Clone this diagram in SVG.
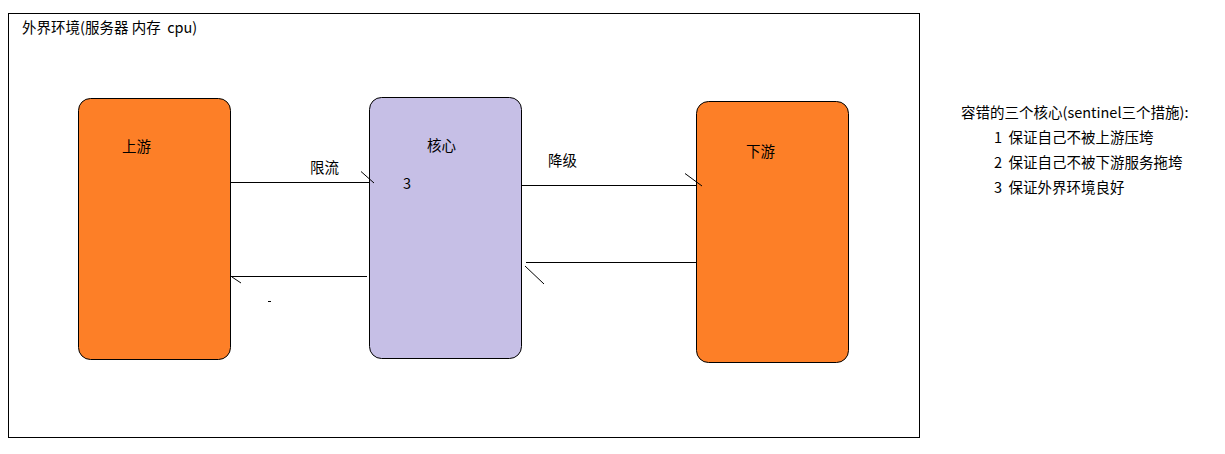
<svg xmlns="http://www.w3.org/2000/svg" width="1225" height="454" viewBox="0 0 1225 454">
<style>
text{font-family:"Noto Sans CJK SC","Noto Sans",sans-serif;font-size:14.5px;fill:#000;white-space:pre;}
.orange{fill:#fd7f27;stroke:#000;stroke-width:1;}
.purple{fill:#c6bfe6;stroke:#000;stroke-width:1;}
.ln{stroke:#000;stroke-width:1;fill:none;}
</style>
<rect x="0" y="0" width="1225" height="454" fill="#fff"/>
<g id="env">
<rect x="8.5" y="13.5" width="911" height="424" fill="none" stroke="#000"/>
<text x="22" y="33" xml:space="preserve">外界环境(服务器 内存  cpu)</text>
</g>
<g id="upstream">
<rect class="orange" x="78.5" y="98.5" width="152" height="261" rx="12"/>
<text x="122" y="152">上游</text>
</g>
<g id="core">
<rect class="purple" x="369.5" y="97.5" width="152" height="261" rx="12"/>
<text x="427" y="151">核心</text>
<text x="403" y="189">3</text>
</g>
<g id="downstream">
<rect class="orange" x="696.5" y="101.5" width="152" height="261" rx="12"/>
<text x="746" y="157">下游</text>
</g>
<g id="connectors">
<line class="ln" x1="231" y1="182.5" x2="369" y2="182.5"/>
<line class="ln" x1="361" y1="171.5" x2="374" y2="183"/>
<text x="310" y="173">限流</text>
<line class="ln" x1="231" y1="276.5" x2="367" y2="276.5"/>
<line class="ln" x1="232" y1="277" x2="241" y2="283"/>
<line class="ln" x1="268" y1="301.5" x2="271" y2="301.5"/>
<line class="ln" x1="522" y1="185.5" x2="696" y2="185.5"/>
<line class="ln" x1="685" y1="173.5" x2="702" y2="186"/>
<text x="548" y="166">降级</text>
<line class="ln" x1="526" y1="262.5" x2="697" y2="262.5"/>
<line class="ln" x1="525" y1="266" x2="544" y2="284"/>
</g>
<g id="notes">
<text x="961" y="118">容错的三个核心(sentinel三个措施):</text>
<text x="994" y="143" xml:space="preserve">1  保证自己不被上游压垮</text>
<text x="994" y="168" xml:space="preserve">2  保证自己不被下游服务拖垮</text>
<text x="994" y="193" xml:space="preserve">3  保证外界环境良好</text>
</g>
</svg>
